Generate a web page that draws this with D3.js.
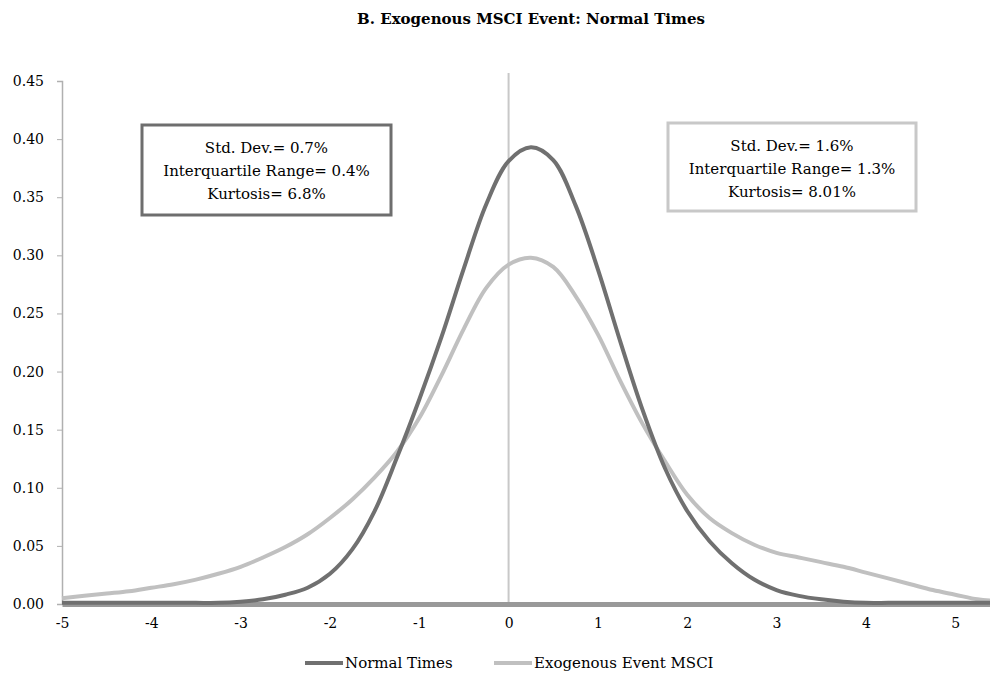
<!DOCTYPE html>
<html>
<head>
<meta charset="utf-8">
<script src="https://cdn.jsdelivr.net/npm/d3@7"></script>
<style>
  html, body { margin: 0; padding: 0; background: #fff; }
  svg { display: block; }
  text { font-family: "DejaVu Serif", serif; fill: #000; }
</style>
</head>
<body>
<svg id="chart" width="990" height="683"></svg>
<script>
const title = "B. Exogenous MSCI Event: Normal Times";
const xValues = [-5, -4.75, -4.5, -4.25, -4, -3.75, -3.5, -3.25, -3, -2.75, -2.5, -2.25, -2, -1.75, -1.5, -1.25, -1, -0.75, -0.5, -0.25, 0, 0.25, 0.5, 0.75, 1, 1.25, 1.5, 1.75, 2, 2.25, 2.5, 2.75, 3, 3.25, 3.5, 3.75, 4, 4.25, 4.5, 4.75, 5, 5.25, 5.39];
const normalTimes = [0.001, 0.001, 0.001, 0.001, 0.001, 0.001, 0.001, 0.001, 0.002, 0.004, 0.008, 0.014, 0.026, 0.047, 0.080, 0.126, 0.176, 0.230, 0.289, 0.344, 0.381, 0.393, 0.382, 0.343, 0.288, 0.226, 0.167, 0.117, 0.080, 0.054, 0.035, 0.021, 0.012, 0.007, 0.004, 0.002, 0.001, 0.001, 0.001, 0.001, 0.001, 0.001, 0.001];
const exogenousEvent = [0.005, 0.007, 0.009, 0.011, 0.014, 0.017, 0.021, 0.026, 0.032, 0.040, 0.049, 0.060, 0.074, 0.090, 0.109, 0.131, 0.160, 0.197, 0.237, 0.272, 0.292, 0.298, 0.290, 0.265, 0.232, 0.192, 0.155, 0.123, 0.094, 0.074, 0.061, 0.051, 0.044, 0.040, 0.036, 0.032, 0.027, 0.022, 0.017, 0.012, 0.008, 0.004, 0.003];
const yTicks = [0, 0.05, 0.10, 0.15, 0.20, 0.25, 0.30, 0.35, 0.40, 0.45];
const xTicks = [-5, -4, -3, -2, -1, 0, 1, 2, 3, 4, 5];
const seriesNames = ["Normal Times", "Exogenous Event MSCI"];
const seriesColors = ["#707070", "#c0c0c0"];
const boxLeft = ["Std. Dev.= 0.7%", "Interquartile Range= 0.4%", "Kurtosis= 6.8%"];
const boxRight = ["Std. Dev.= 1.6%", "Interquartile Range= 1.3%", "Kurtosis= 8.01%"];

const svg = d3.select("#chart");
const x = d3.scaleLinear().domain([-5, 5.39]).range([62, 990]);
const y = d3.scaleLinear().domain([0, 0.45]).range([604, 81]);

// title
svg.append("text").attr("x", 531).attr("y", 24).attr("text-anchor", "middle")
  .style("font-weight", "bold").style("font-size", "15px").text(title);

// y axis
const yAxis = svg.append("g").attr("transform", "translate(62,0)")
  .call(d3.axisLeft(y).tickValues(yTicks).tickFormat(d3.format(".2f")).tickSize(5).tickPadding(13));
yAxis.select(".domain").attr("stroke", "#b0b0b0").attr("stroke-width", 1.5);
yAxis.selectAll(".tick line").attr("stroke", "#b0b0b0");
yAxis.selectAll(".tick text").style("font-size", "14px").style("font-family", "'DejaVu Serif', serif");

// zero vertical line
svg.append("line").attr("x1", x(0)).attr("x2", x(0)).attr("y1", 73).attr("y2", y(0))
  .attr("stroke", "#c8c8c8").attr("stroke-width", 2);

// x axis
const xAxis = svg.append("g").attr("transform", `translate(0,${y(0)})`)
  .call(d3.axisBottom(x).tickValues(xTicks).tickFormat(d => String(d)).tickSize(0).tickPadding(14));
xAxis.select(".domain").attr("stroke", "#999").attr("stroke-width", 5);
xAxis.selectAll(".tick text").style("font-size", "14px").style("font-family", "'DejaVu Serif', serif");

// curves
const line = d3.line().x((d, i) => x(xValues[i])).y(d => y(d)).curve(d3.curveCatmullRom.alpha(0.5));
const series = [normalTimes, exogenousEvent];
[1, 0].forEach(k => {
  svg.append("path").datum(series[k]).attr("d", line).attr("fill", "none")
    .attr("stroke", seriesColors[k]).attr("stroke-width", 4).attr("stroke-linejoin", "round");
});

// stat boxes
function box(x0, y0, w, h, color, lines) {
  svg.append("rect").attr("x", x0).attr("y", y0).attr("width", w).attr("height", h)
    .attr("fill", "#fff").attr("stroke", color).attr("stroke-width", 3);
  lines.forEach((t, i) => {
    svg.append("text").attr("x", x0 + w / 2).attr("y", y0 + 28 + i * 23)
      .attr("text-anchor", "middle").style("font-size", "15px").text(t);
  });
}
box(142, 125, 249, 90, "#6e6e6e", boxLeft);
box(668, 123, 248, 88, "#c8c8c8", boxRight);

// legend
const legendItems = [{x: 305, tx: 345}, {x: 494, tx: 534}];
legendItems.forEach((it, i) => {
  svg.append("line").attr("x1", it.x).attr("x2", it.x + 38).attr("y1", 663).attr("y2", 663)
    .attr("stroke", seriesColors[i]).attr("stroke-width", 4);
  svg.append("text").attr("x", it.tx).attr("y", 668).style("font-size", "15px").text(seriesNames[i]);
});
</script>
</body>
</html>
